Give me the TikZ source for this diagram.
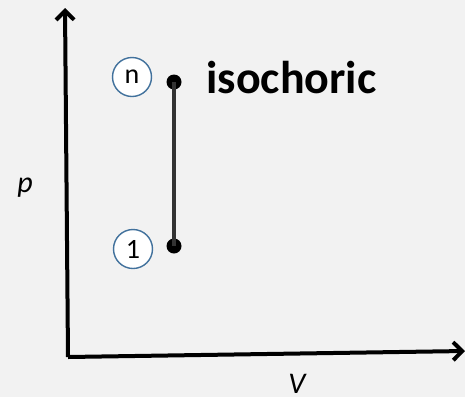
\documentclass[tikz,border=0pt]{standalone}
\usepackage{fontspec}
\setmainfont{Carlito}
\usetikzlibrary{arrows.meta,shapes.geometric}
\definecolor{bgc}{HTML}{F2F2F2}
\definecolor{ringc}{HTML}{41719C}
\begin{document}
\begin{tikzpicture}[x=1pt,y=-1pt,
  axis/.style={line width=4pt,-{Straight Barb[length=9pt,width=18pt,line width=4pt]}},
  statept/.style={circle,fill=black,inner sep=0pt,minimum size=15pt},
  tag/.style={circle,draw=ringc,line width=1.4pt,fill=white,inner sep=0pt,minimum size=39pt,font=\fontsize{28pt}{28pt}\selectfont},
  axlabel/.style={anchor=base,inner sep=0pt,font=\itshape\fontsize{30pt}{30pt}\selectfont}]
\fill[bgc] (0,0) rectangle (465,397);
\useasboundingbox (0,0) rectangle (465,397);
\coordinate (o) at (68,357);
\coordinate (ytop) at (65,8);
\coordinate (xend) at (465,351);
\draw[axis] (o) -- (ytop);
\draw[axis] (o) -- (xend);
\node[axlabel] (p) at (25,192) {p};
\node[axlabel] (v) at (297,393) {V};
\node[statept] (n1) at (174,82) {};
\node[statept] (s1) at (174,246) {};
\draw[line width=4pt,black!80] (n1.center) -- (s1.center);
\node[tag] (tn) at (132,77) {n};
\node[tag] (t1) at (133,249) {1};
\node[anchor=base west,font=\bfseries\fontsize{46pt}{46pt}\selectfont] (iso) at (203,93) {isochoric};
\end{tikzpicture}
\end{document}
